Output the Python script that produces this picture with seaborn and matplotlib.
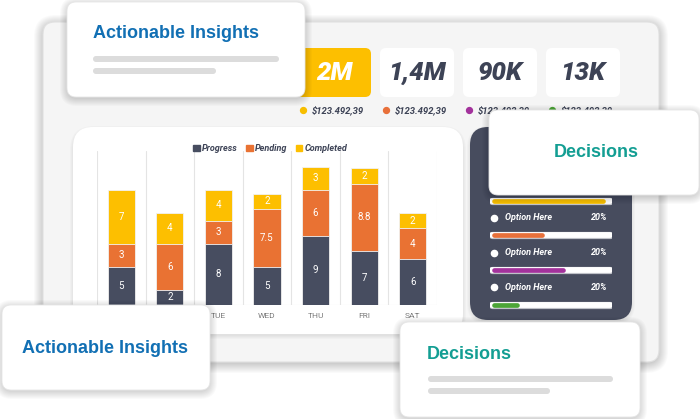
import matplotlib
matplotlib.use("Agg")
import matplotlib.pyplot as plt
from matplotlib.patches import FancyBboxPatch, Patch
import numpy as np
import pandas as pd
import seaborn as sns

# ----------------------------------------
# data
# ----------------------------------------
days = ["SUN", "MON", "TUE", "WED", "THU", "FRI", "SAT"]
progress = [5, 2, 8, 5, 9, 7, 6]
pending = [3, 6, 3, 7.5, 6, 8.8, 4]
completed = [7, 4, 4, 2, 3, 2, 2]

kpi_values = ["2M", "1,4M", "90K", "13K"]
kpi_amounts = ["$123.492,39"] * 4
kpi_colors = ["#f7be00", "#e8703a", "#a3329c", "#4ca537"]

option_labels = ["Option Here"] * 4
option_pcts = ["20%"] * 4
option_fill = [0.93, 0.43, 0.60, 0.22]

DARK = "#474c5e"
C_PROG = "#474d60"
C_PEND = "#e97233"
C_COMP = "#fdbf00"
BLUE = "#1270b4"
TEAL = "#139e93"

sns.set_theme(style="white")
plt.rcParams["font.family"] = ["Roboto", "DejaVu Sans"]

W, H = 700, 419
fig = plt.figure(figsize=(7, 4.19), dpi=100)
fig.patch.set_facecolor("white")


def pixel_axes(z):
    a = fig.add_axes([0, 0, 1, 1], zorder=z)
    a.set_xlim(0, W)
    a.set_ylim(H, 0)
    a.axis("off")
    a.patch.set_alpha(0)
    return a


def rbox(a, x0, y0, x1, y1, r, fc, ec="none", lw=0, z=1, shadow=0):
    for i in range(shadow, 0, -1):
        a.add_patch(FancyBboxPatch((x0 - i + 1, y0 - i + 3), x1 - x0 + 2 * i - 2, y1 - y0 + 2 * i - 2,
                                   boxstyle=f"round,pad=0,rounding_size={r + i}",
                                   fc="#000000", ec="none", alpha=0.018, zorder=z))
    a.add_patch(FancyBboxPatch((x0, y0), x1 - x0, y1 - y0,
                               boxstyle=f"round,pad=0,rounding_size={r}",
                               fc=fc, ec=ec, lw=lw, zorder=z))


def pill(a, x0, x1, y, h, color, z):
    a.add_patch(FancyBboxPatch((x0, y - h / 2), x1 - x0, h,
                               boxstyle=f"round,pad=0,rounding_size={h / 2}",
                               fc=color, ec="none", zorder=z))


def card(a, x0, y0, x1, y1, title, color, tx, ty, lines=None):
    rbox(a, x0, y0, x1, y1, 9, "white", "#e6e6e6", 0.6, z=5, shadow=8)
    a.text(tx, ty, title, color=color, fontsize=13, fontweight="bold",
           family=["Liberation Sans", "DejaVu Sans"], va="center", ha="left", zorder=6)
    if lines:
        for (lx0, lx1, ly) in lines:
            pill(a, lx0, lx1, ly, 6, "#dcdcdc", 6)


# ----------------------------------------
# background layer
# ----------------------------------------
bg = pixel_axes(0)
rbox(bg, 43, 22, 659, 362, 12, "#f5f5f5", "#e0e0e0", 0.8, z=1, shadow=10)

# KPI boxes
for i, (val, amt, col) in enumerate(zip(kpi_values, kpi_amounts, kpi_colors)):
    x0 = 297 + i * 83
    fc = C_COMP if i == 0 else "white"
    tc = "white" if i == 0 else "#3d4356"
    rbox(bg, x0, 48, x0 + 74, 97, 6, fc, z=2)
    bg.text(x0 + 37, 73, val, ha="center", va="center", fontsize=18.5,
            fontweight="heavy", fontstyle="italic", color=tc, zorder=3)
    bg.scatter([x0 + 6], [110], s=18, color=col, zorder=3)
    bg.text(x0 + 15, 110, amt, ha="left", va="center", fontsize=6.8,
            fontweight="bold", fontstyle="italic", color="#3d4356", zorder=3)

# chart card and dark options panel
rbox(bg, 73, 127, 463, 334, 20, "white", z=2, shadow=4)
rbox(bg, 470, 127, 632, 320, 18, DARK, z=2, shadow=4)

# top "Actionable Insights" card
card(bg, 67, 2, 305, 97, "Actionable Insights", BLUE, 93, 34,
     lines=[(93, 279, 59), (93, 216, 71)])

# ----------------------------------------
# stacked bar chart
# ----------------------------------------
df = pd.DataFrame({"day": days, "progress": progress,
                   "pending": pending, "completed": completed})
df["mid"] = df["progress"] + df["pending"]
df["top"] = df["mid"] + df["completed"]

ax = fig.add_axes([97 / W, 1 - 305 / H, 340 / W, 154.3 / H], zorder=2)
ax.patch.set_alpha(0)
bar_kw = dict(width=0.56, saturation=1, linewidth=0.6, edgecolor="#f2f2f2", ax=ax)
sns.barplot(data=df, x="day", y="top", color=C_COMP, **bar_kw)
sns.barplot(data=df, x="day", y="mid", color=C_PEND, **bar_kw)
sns.barplot(data=df, x="day", y="progress", color=C_PROG, **bar_kw)

for i, r in df.iterrows():
    for lo, val in [(0, r["progress"]), (r["progress"], r["pending"]), (r["mid"], r["completed"])]:
        ax.text(i, lo + val / 2, f"{val:g}", ha="center", va="center",
                fontsize=7, color="white")

ax.set_xlim(-0.5, 6.5)
ax.set_ylim(0, 20.1)
for xv in np.arange(-0.5, 7, 1):
    ax.axvline(xv, color="#e4e4e4", lw=0.8, zorder=0)
ax.axhline(0, color="#e4e4e4", lw=0.8, zorder=0)
sns.despine(ax=ax, left=True, bottom=True)
ax.set_xlabel("")
ax.set_ylabel("")
ax.set_yticks([])
ax.tick_params(axis="x", length=0, pad=6, labelsize=6, labelcolor="#7a7a7a")

handles = [Patch(color=c, label=l) for c, l in
           [(C_PROG, "Progress"), (C_PEND, "Pending"), (C_COMP, "Completed")]]
leg = ax.legend(handles=handles, loc="center", bbox_to_anchor=(0.51, 1.015), ncol=3,
                frameon=False, handlelength=0.7, handleheight=0.7, handletextpad=0.3,
                columnspacing=0.9, prop={"size": 6.5, "weight": "bold", "style": "italic"})
for t in leg.get_texts():
    t.set_color("#3d4356")

# ----------------------------------------
# option progress bars in the dark panel
# ----------------------------------------
oa = fig.add_axes([490 / W, 1 - 322 / H, 122 / W, 138.7 / H], zorder=2)
oa.patch.set_alpha(0)
oa.set_xlim(0, 1)
oa.set_ylim(3.5, -0.5)
oa.axis("off")
ys = np.arange(len(option_fill))
oa.hlines(ys, 0.02, 0.98, color="#bfc1c8", lw=5.2, capstyle="round")
oa.hlines(ys, 0.02, 0.98, color="white", lw=4.2, capstyle="round")
oa.hlines(ys, 0.03, [max(f, 0.05) for f in option_fill], color=kpi_colors, lw=3.4, capstyle="round")
for y, lab, pct in zip(ys, option_labels, option_pcts):
    oa.scatter([0.035], [y - 0.5], s=20, color="white", zorder=3)
    oa.text(0.125, y - 0.5, lab, ha="left", va="center", fontsize=6.5,
            fontweight="bold", fontstyle="italic", color="white")
    oa.text(0.96, y - 0.5, pct, ha="right", va="center", fontsize=6.5,
            fontweight="bold", fontstyle="italic", color="white")

# ----------------------------------------
# overlay cards
# ----------------------------------------
top = pixel_axes(4)
card(top, 489, 110, 699, 195, "Decisions", TEAL, 554, 152)
card(top, 2, 305, 210, 390, "Actionable Insights", BLUE, 22, 348)
card(top, 400, 322, 640, 417, "Decisions", TEAL, 427, 354,
     lines=[(428, 613, 379), (428, 550, 391)])

fig.savefig("out.png", dpi=100, facecolor=fig.get_facecolor())
